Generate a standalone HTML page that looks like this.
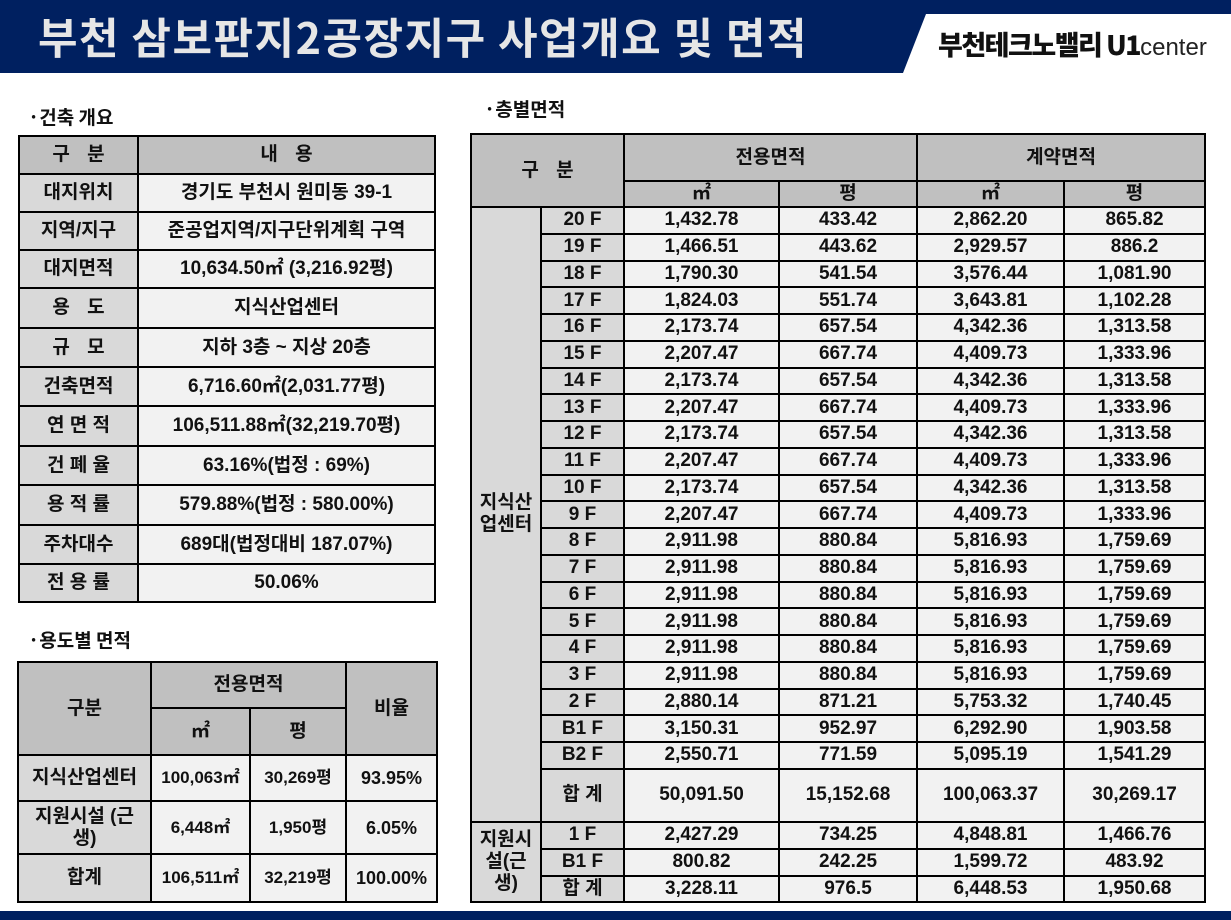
<!DOCTYPE html>
<html><head><meta charset="utf-8">
<style>
*{margin:0;padding:0;box-sizing:border-box}
body{width:1231px;height:920px;background:#fff;position:relative;overflow:hidden;font-family:"Liberation Sans","Noto Sans CJK KR",sans-serif;font-weight:bold;color:#111}
.hdr{position:absolute;left:0;top:0;width:1231px;height:73px;background:#002060}
.logo{position:absolute;left:0;top:0;width:1231px;height:73px;background:#fff;clip-path:polygon(926px 14px,1231px 14px,1231px 73px,903px 73px)}
.title{position:absolute;left:38px;top:6px;font-size:43px;color:#e6e6e6;letter-spacing:1.5px;font-family:"Noto Sans CJK KR",sans-serif;font-weight:bold;line-height:60px;white-space:nowrap}
.logotxt{position:absolute;left:938px;top:22px;font-size:27px;color:#111;font-family:"Noto Sans CJK KR",sans-serif;font-weight:900;line-height:44px;letter-spacing:-1.5px;white-space:nowrap}
.logotxt span{font-size:24px;font-weight:normal;font-family:"Liberation Sans",sans-serif;color:#222;letter-spacing:0}
.bot{position:absolute;left:0;top:911px;width:1231px;height:9px;background:#002060}
.sec{position:absolute;font-size:19px;font-family:"Noto Sans CJK KR",sans-serif;font-weight:bold}
table{position:absolute;border-collapse:collapse;table-layout:fixed}
td{border:2px solid #000;text-align:center;vertical-align:middle;font-size:19px;line-height:22px;background:#f2f2f2;padding:0;white-space:nowrap}
td.h{background:#c0c0c0}
td.g{background:#d9d9d9}
.w{white-space:normal}
.ls{letter-spacing:6px;text-indent:6px}
</style></head><body>
<div class="hdr"></div>
<div class="logo"></div>
<div class="title">부천 삼보판지2공장지구 사업개요 및 면적</div>
<div class="logotxt">부천테크노밸리 U1<span>center</span></div>

<div class="sec" style="left:28px;top:103px">·건축 개요</div>
<table style="left:18px;top:135px;width:416px">
<col style="width:119px"><col style="width:297px">
<tr style="height:38px"><td class="h ls">구 분</td><td class="h ls">내 용</td></tr>
<tr style="height:38px"><td class="g">대지위치</td><td>경기도 부천시 원미동 39-1</td></tr>
<tr style="height:38px"><td class="g">지역/지구</td><td>준공업지역/지구단위계획 구역</td></tr>
<tr style="height:38px"><td class="g">대지면적</td><td>10,634.50㎡ (3,216.92평)</td></tr>
<tr style="height:40px"><td class="g ls">용 도</td><td>지식산업센터</td></tr>
<tr style="height:39px"><td class="g ls">규 모</td><td>지하 3층 ~ 지상 20층</td></tr>
<tr style="height:39px"><td class="g">건축면적</td><td>6,716.60㎡(2,031.77평)</td></tr>
<tr style="height:40px"><td class="g">연 면 적</td><td>106,511.88㎡(32,219.70평)</td></tr>
<tr style="height:39px"><td class="g">건 폐 율</td><td>63.16%(법정 : 69%)</td></tr>
<tr style="height:40px"><td class="g">용 적 률</td><td>579.88%(법정 : 580.00%)</td></tr>
<tr style="height:39px"><td class="g">주차대수</td><td>689대(법정대비 187.07%)</td></tr>
<tr style="height:38px"><td class="g">전 용 률</td><td>50.06%</td></tr>
</table>

<div class="sec" style="left:28px;top:626px">·용도별 면적</div>
<table style="left:17px;top:661px;width:419px">
<col style="width:133px"><col style="width:99px"><col style="width:96px"><col style="width:91px">
<tr style="height:46px"><td class="h" rowspan="2">구분</td><td class="h" colspan="2">전용면적</td><td class="h" rowspan="2">비율</td></tr>
<tr style="height:47px"><td class="h">㎡</td><td class="h">평</td></tr>
<tr style="height:46px"><td class="g">지식산업센터</td><td style="font-size:17px">100,063㎡</td><td style="font-size:17px">30,269평</td><td style="font-size:18px">93.95%</td></tr>
<tr style="height:53px"><td class="g w">지원시설 (근<br>생)</td><td style="font-size:17px">6,448㎡</td><td style="font-size:17px">1,950평</td><td style="font-size:18px">6.05%</td></tr>
<tr style="height:48px"><td class="g">합계</td><td style="font-size:17px">106,511㎡</td><td style="font-size:17px">32,219평</td><td style="font-size:18px">100.00%</td></tr>
</table>

<div class="sec" style="left:484px;top:95px">·층별면적</div>
<table style="left:470px;top:133px;width:734px">
<col style="width:70px"><col style="width:83px"><col style="width:155px"><col style="width:138px"><col style="width:147px"><col style="width:141px">
<tr style="height:47px"><td class="h ls" colspan="2" rowspan="2">구 분</td><td class="h" colspan="2">전용면적</td><td class="h" colspan="2">계약면적</td></tr>
<tr style="height:26px"><td class="h">㎡</td><td class="h">평</td><td class="h">㎡</td><td class="h">평</td></tr>
<tr style="height:26.75px"><td class="g w" rowspan="22">지식산<br>업센터</td><td class="g">20 F</td><td>1,432.78</td><td>433.42</td><td>2,862.20</td><td>865.82</td></tr>
<tr style="height:26.75px"><td class="g">19 F</td><td>1,466.51</td><td>443.62</td><td>2,929.57</td><td>886.2</td></tr>
<tr style="height:26.75px"><td class="g">18 F</td><td>1,790.30</td><td>541.54</td><td>3,576.44</td><td>1,081.90</td></tr>
<tr style="height:26.75px"><td class="g">17 F</td><td>1,824.03</td><td>551.74</td><td>3,643.81</td><td>1,102.28</td></tr>
<tr style="height:26.75px"><td class="g">16 F</td><td>2,173.74</td><td>657.54</td><td>4,342.36</td><td>1,313.58</td></tr>
<tr style="height:26.75px"><td class="g">15 F</td><td>2,207.47</td><td>667.74</td><td>4,409.73</td><td>1,333.96</td></tr>
<tr style="height:26.75px"><td class="g">14 F</td><td>2,173.74</td><td>657.54</td><td>4,342.36</td><td>1,313.58</td></tr>
<tr style="height:26.75px"><td class="g">13 F</td><td>2,207.47</td><td>667.74</td><td>4,409.73</td><td>1,333.96</td></tr>
<tr style="height:26.75px"><td class="g">12 F</td><td>2,173.74</td><td>657.54</td><td>4,342.36</td><td>1,313.58</td></tr>
<tr style="height:26.75px"><td class="g">11 F</td><td>2,207.47</td><td>667.74</td><td>4,409.73</td><td>1,333.96</td></tr>
<tr style="height:26.75px"><td class="g">10 F</td><td>2,173.74</td><td>657.54</td><td>4,342.36</td><td>1,313.58</td></tr>
<tr style="height:26.75px"><td class="g">9 F</td><td>2,207.47</td><td>667.74</td><td>4,409.73</td><td>1,333.96</td></tr>
<tr style="height:26.75px"><td class="g">8 F</td><td>2,911.98</td><td>880.84</td><td>5,816.93</td><td>1,759.69</td></tr>
<tr style="height:26.75px"><td class="g">7 F</td><td>2,911.98</td><td>880.84</td><td>5,816.93</td><td>1,759.69</td></tr>
<tr style="height:26.75px"><td class="g">6 F</td><td>2,911.98</td><td>880.84</td><td>5,816.93</td><td>1,759.69</td></tr>
<tr style="height:26.75px"><td class="g">5 F</td><td>2,911.98</td><td>880.84</td><td>5,816.93</td><td>1,759.69</td></tr>
<tr style="height:26.75px"><td class="g">4 F</td><td>2,911.98</td><td>880.84</td><td>5,816.93</td><td>1,759.69</td></tr>
<tr style="height:26.75px"><td class="g">3 F</td><td>2,911.98</td><td>880.84</td><td>5,816.93</td><td>1,759.69</td></tr>
<tr style="height:26.75px"><td class="g">2 F</td><td>2,880.14</td><td>871.21</td><td>5,753.32</td><td>1,740.45</td></tr>
<tr style="height:26.75px"><td class="g">B1 F</td><td>3,150.31</td><td>952.97</td><td>6,292.90</td><td>1,903.58</td></tr>
<tr style="height:26.75px"><td class="g">B2 F</td><td>2,550.71</td><td>771.59</td><td>5,095.19</td><td>1,541.29</td></tr>
<tr style="height:53px"><td class="g">합 계</td><td>50,091.50</td><td>15,152.68</td><td>100,063.37</td><td>30,269.17</td></tr>
<tr style="height:27px"><td class="g w" rowspan="3">지원시<br>설(근<br>생)</td><td class="g">1 F</td><td>2,427.29</td><td>734.25</td><td>4,848.81</td><td>1,466.76</td></tr>
<tr style="height:27px"><td class="g">B1 F</td><td>800.82</td><td>242.25</td><td>1,599.72</td><td>483.92</td></tr>
<tr style="height:26px"><td class="g">합 계</td><td>3,228.11</td><td>976.5</td><td>6,448.53</td><td>1,950.68</td></tr>
</table>
<div class="bot"></div>
</body></html>
